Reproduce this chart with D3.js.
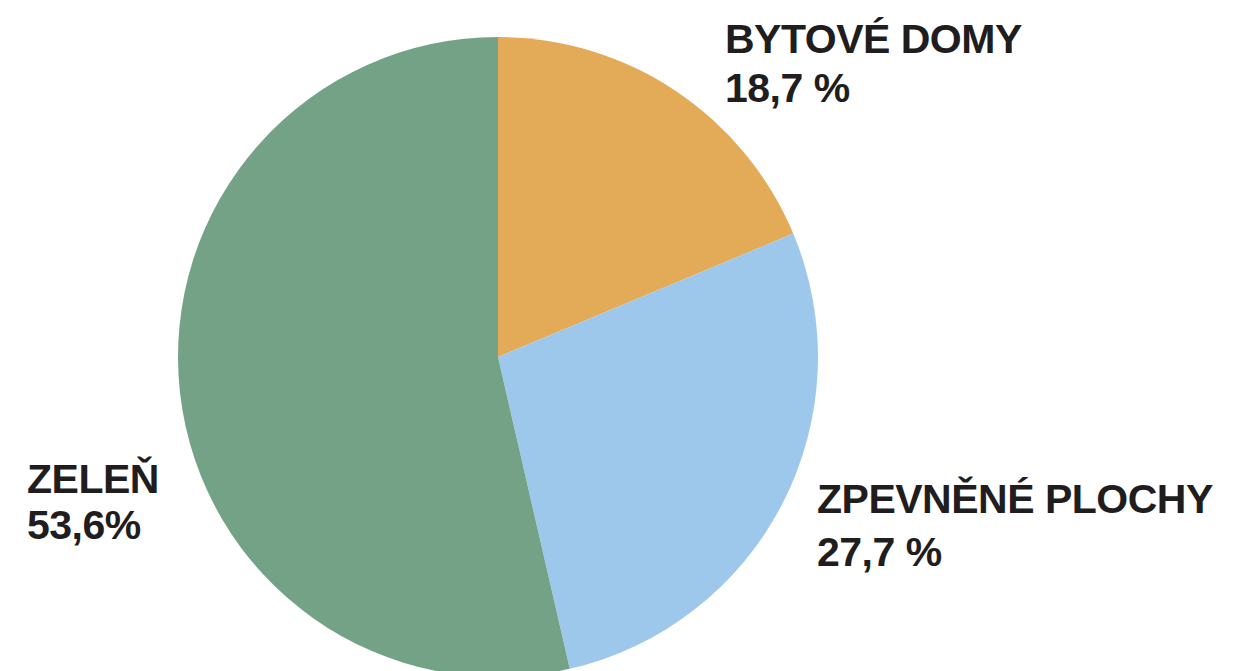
<!DOCTYPE html>
<html>
<head>
<meta charset="utf-8">
<script src="https://cdn.jsdelivr.net/npm/d3@7"></script>
<style>
  html, body { margin: 0; padding: 0; background: #ffffff; }
  svg { display: block; }
</style>
</head>
<body>
<svg id="chart" width="1234" height="671"></svg>
<script>
// Slice data, clockwise from 12 o'clock.
const categories = ["BYTOVÉ DOMY", "ZPEVNĚNÉ PLOCHY", "ZELEŇ"];
const shares = [18.7, 27.7, 53.6];
const shareLabels = ["18,7 %", "27,7 %", "53,6%"];
const sliceColors = ["#e3ab57", "#9dc8ec", "#74a286"];

const width = 1234;
const height = 671;
const cx = 498;
const cy = 357;
const radius = 320;

// Label anchors (left edge, first baseline) and line spacing.
const labelPos = [
  { x: 725, y: 53, gap: 49 },
  { x: 817, y: 513, gap: 53 },
  { x: 27, y: 493, gap: 46 }
];

const svg = d3.select("#chart");

const pie = d3.pie()
  .sort(null)
  .value(d => d.value);

const arc = d3.arc()
  .innerRadius(0)
  .outerRadius(radius);

const data = categories.map((c, i) => ({ name: c, value: shares[i], label: shareLabels[i] }));

const g = svg.append("g")
  .attr("transform", `translate(${cx},${cy})`);

g.selectAll("path")
  .data(pie(data))
  .enter()
  .append("path")
  .attr("d", arc)
  .attr("fill", (d, i) => sliceColors[i]);

// Two-line labels: category name and share.
const labels = svg.selectAll(".label")
  .data(data)
  .enter()
  .append("text")
  .attr("class", "label")
  .attr("font-family", "'Liberation Sans', Arial, Helvetica, sans-serif")
  .attr("font-weight", "bold")
  .attr("font-size", "41px")
  .attr("letter-spacing", "-0.5px")
  .attr("fill", "#211d1e");

labels.append("tspan")
  .attr("x", (d, i) => labelPos[i].x)
  .attr("y", (d, i) => labelPos[i].y)
  .text(d => d.name);

labels.append("tspan")
  .attr("x", (d, i) => labelPos[i].x)
  .attr("y", (d, i) => labelPos[i].y + labelPos[i].gap)
  .text(d => d.label);
</script>
</body>
</html>
